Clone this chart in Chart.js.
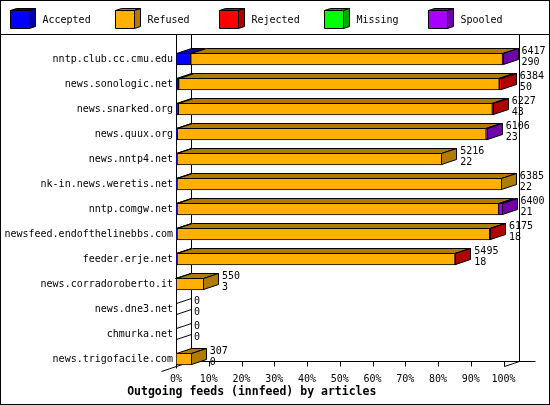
<!DOCTYPE html>
<html>
<head>
<meta charset="utf-8">
<script src="https://cdn.jsdelivr.net/npm/chart.js@4"></script>
<style>
  body { margin: 0; background: #fff; }
  canvas { display: block; }
</style>
</head>
<body>
<canvas id="feeds" width="550" height="405"></canvas>
<script>
// hosts (y axis)
const hosts = [
    'nntp.club.cc.cmu.edu', 'news.sonologic.net', 'news.snarked.org', 'news.quux.org',
    'news.nntp4.net', 'nk-in.news.weretis.net', 'nntp.comgw.net', 'newsfeed.endofthelinebbs.com',
    'feeder.erje.net', 'news.corradoroberto.it', 'news.dne3.net', 'chmurka.net', 'news.trigofacile.com'
];

// percent of the biggest feed
const accepted = [4.5, 0.8, 0.7, 0.4, 0.3, 0.3, 0.3, 0.3, 0.3, 0.05, 0, 0, 0];
const refused  = [95.2, 97.9, 95.9, 94.3, 81.0, 99.2, 98.2, 95.5, 84.9, 8.5, 0, 0, 4.8];
const rejected = [0, 0.8, 0.4, 0, 0, 0, 0, 0.4, 0.4, 0, 0, 0, 0];
const missing  = [0, 0, 0, 0, 0, 0, 0, 0, 0, 0, 0, 0, 0];
const spooled  = [0.3, 0, 0, 0.5, 0, 0, 1.2, 0, 0, 0, 0, 0, 0];

// numbers printed at the end of each bar
const offered     = [6417, 6384, 6227, 6106, 5216, 6385, 6400, 6175, 5495, 550, 0, 0, 307];
const acceptedNum = [290, 50, 43, 23, 22, 22, 21, 18, 18, 3, 0, 0, 0];

const xTicks = [0, 10, 20, 30, 40, 50, 60, 70, 80, 90, 100];

const seriesNames = ['Accepted', 'Refused', 'Rejected', 'Missing', 'Spooled'];
const frontColors = ['#0000ff', '#ffb000', '#ff0000', '#00ff00', '#a800ff'];
const sideColors  = ['#0000a8', '#b07c00', '#b00000', '#00a800', '#7000a8'];

const MONO = '"DejaVu Sans Mono", "Liberation Mono", monospace';
const DX = 15, DY = 5; // 3d depth

function poly(ctx, pts, fill) {
    ctx.beginPath();
    ctx.moveTo(pts[0][0], pts[0][1]);
    for (let k = 1; k < pts.length; k++) ctx.lineTo(pts[k][0], pts[k][1]);
    ctx.closePath();
    if (fill) { ctx.fillStyle = fill; ctx.fill(); }
    ctx.stroke();
}

function line(ctx, x1, y1, x2, y2) {
    ctx.beginPath();
    ctx.moveTo(x1, y1);
    ctx.lineTo(x2, y2);
    ctx.stroke();
}

const frame3d = {
    id: 'frame3d',
    beforeDraw(chart) {
        const ctx = chart.ctx;
        ctx.save();
        ctx.fillStyle = '#fff';
        ctx.fillRect(0, 0, chart.width, chart.height);
        ctx.restore();
    },
    beforeDatasetsDraw(chart) {
        const ctx = chart.ctx;
        const xs = chart.scales.x;
        const L = Math.round(xs.getPixelForValue(0)) + 0.5;
        const R = Math.round(xs.getPixelForValue(100)) + 0.5;
        const floor = Math.round(chart.chartArea.bottom - 10.5) + 0.5;
        const top = 35;
        ctx.save();
        ctx.strokeStyle = '#000';
        ctx.lineWidth = 1;
        line(ctx, L, top, L, floor + 7);
        line(ctx, L + DX, top, L + DX, floor);
        line(ctx, R + DX, top, R + DX, floor);
        line(ctx, L + DX, floor, R + 2 * DX + 1, floor);
        line(ctx, L - DX, floor + 10, L + DX, floor);
        line(ctx, R, floor + 5, R + DX, floor);
        xTicks.forEach(v => {
            const x = Math.round(xs.getPixelForValue(v)) + 0.5;
            line(ctx, x, floor, x, floor + 5);
        });
        ctx.restore();
    },
    afterDatasetsDraw(chart) {
        const ctx = chart.ctx;
        const xs = chart.scales.x;
        const L = Math.round(xs.getPixelForValue(0)) + 0.5;
        ctx.save();
        ctx.strokeStyle = '#000';
        ctx.lineWidth = 1;
        hosts.forEach((h, i) => {
            let last = -1, lastEl = null, firstEl = null;
            chart.data.datasets.forEach((ds, d) => {
                const el = chart.getDatasetMeta(d).data[i];
                if (!firstEl) firstEl = el;
                if (!(ds.data[i] > 0)) return;
                const x0 = Math.round(el.base) + 0.5, x1 = Math.round(el.x) - 0.5;
                const t = Math.round(el.y - el.height / 2) + 0.5;
                // slivers too thin to show only get an outline
                poly(ctx, [[x0, t], [x1, t], [x1 + DX, t - DY], [x0 + DX, t - DY]],
                     x1 - x0 >= 2 ? sideColors[d] : null);
                last = d; lastEl = el;
            });
            const t = Math.round(firstEl.y - firstEl.height / 2) + 0.5;
            const b = Math.round(firstEl.y + firstEl.height / 2) - 0.5;
            if (last >= 0) {
                const x1 = Math.round(lastEl.x) - 0.5;
                poly(ctx, [[x1, t], [x1 + DX, t - DY], [x1 + DX, b - DY], [x1, b]], sideColors[last]);
            } else {
                line(ctx, L, t, L + DX, t - DY);
                line(ctx, L, b, L + DX, b - DY);
            }
            // value labels
            let sum = 0;
            chart.data.datasets.forEach(ds => { sum += ds.data[i]; });
            const tx = xs.getPixelForValue(sum) + 18;
            ctx.fillStyle = '#000';
            ctx.font = '10px ' + MONO;
            ctx.textAlign = 'left';
            ctx.textBaseline = 'middle';
            ctx.fillText(String(offered[i]), tx, firstEl.y - 8);
            ctx.fillText(String(acceptedNum[i]), tx, firstEl.y + 3);
        });
        ctx.restore();
    },
    afterDraw(chart) {
        const ctx = chart.ctx;
        ctx.save();
        ctx.strokeStyle = '#000';
        ctx.lineWidth = 1;
        ctx.strokeRect(0.5, 0.5, chart.width - 1, chart.height - 1);
        line(ctx, 0, 34.5, chart.width, 34.5);
        // legend with little 3d boxes
        ctx.font = '10px ' + MONO;
        ctx.textAlign = 'left';
        ctx.textBaseline = 'middle';
        seriesNames.forEach((name, k) => {
            const x = Math.round(10 + k * 104.5) + 0.5, y = 10.5, w = 19, hh = 18;
            poly(ctx, [[x, y], [x + w, y], [x + w + 6, y - 2], [x + 6, y - 2]], sideColors[k]);
            poly(ctx, [[x + w, y], [x + w + 6, y - 2], [x + w + 6, y + hh - 2], [x + w, y + hh]], sideColors[k]);
            poly(ctx, [[x, y], [x + w, y], [x + w, y + hh], [x, y + hh]], frontColors[k]);
            ctx.fillStyle = '#000';
            ctx.fillText(name, x + 32, 20);
        });
        ctx.restore();
    }
};

const series = [accepted, refused, rejected, missing, spooled];

new Chart(document.getElementById('feeds'), {
    type: 'bar',
    data: {
        labels: hosts,
        datasets: series.map((vals, k) => ({
            label: seriesNames[k],
            data: vals,
            backgroundColor: frontColors[k],
            borderColor: '#000',
            borderWidth: 1,
            borderSkipped: false,
            barThickness: 12
        }))
    },
    options: {
        indexAxis: 'y',
        responsive: false,
        animation: false,
        layout: { padding: { left: 0, right: 46.5, top: 46.5, bottom: 4 } },
        scales: {
            x: {
                stacked: true,
                min: 0,
                max: 100,
                grid: { display: false, drawTicks: false, tickLength: 0 },
                border: { display: false },
                ticks: {
                    stepSize: 10,
                    padding: 1.5,
                    color: '#000',
                    font: { family: MONO, size: 10 },
                    maxRotation: 0,
                    callback: v => v + '%'
                },
                afterFit: s => { s.height = 11.7; }
            },
            y: {
                stacked: true,
                grid: { display: false, drawTicks: false, tickLength: 0 },
                border: { display: false },
                ticks: {
                    padding: 3,
                    color: '#000',
                    font: { family: MONO, size: 10 }
                },
                afterFit: s => { s.width = 176; }
            }
        },
        plugins: {
            legend: { display: false },
            tooltip: { enabled: false },
            title: {
                display: true,
                position: 'bottom',
                text: 'Outgoing feeds (innfeed) by articles',
                color: '#000',
                font: { family: MONO, size: 11.5, weight: 'bold' },
                padding: { top: 2, bottom: 2 }
            }
        }
    },
    plugins: [frame3d]
});
</script>
</body>
</html>
